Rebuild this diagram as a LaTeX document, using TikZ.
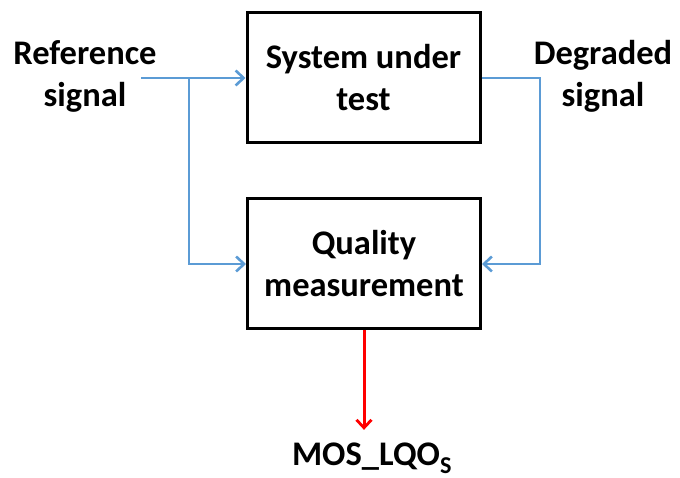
\documentclass[tikz,border=0pt]{standalone}
\usepackage{fontspec}
\setmainfont{Carlito}
\usetikzlibrary{arrows.meta}
\definecolor{sigblue}{RGB}{91,155,213}

\begin{document}
\begin{tikzpicture}[x=1pt,y=1pt,
    block/.style={draw=black,line width=3pt,minimum width=233pt,minimum height=130pt,align=center},
    lbl/.style={align=center},
    sig/.style={draw=sigblue,line width=2.8pt,-{Straight Barb[length=8pt,width=15pt,line width=2.6pt]}},
    res/.style={draw=red,line width=3pt,-{Straight Barb[length=8pt,width=15pt,line width=2.8pt]}},
    every node/.style={font=\fontsize{34.5}{42}\selectfont\bfseries}]
\useasboundingbox (0,0) rectangle (680,478);
\node[block] (sut) at (363.5,400) {System under\\test};
\node[block] (qm) at (364,214) {Quality\\measurement};
\node[lbl] (ref) at (85,402) {Reference\\signal};
\node[lbl] (deg) at (603,402) {Degraded\\signal};
\node[anchor=base] (mos) at (372,12) {MOS\_LQO\textsubscript{S}};
\coordinate (in) at (141,400);
\coordinate (br) at (189,400);
\coordinate (out) at (540,400);
\draw[sig] (in) -- (sut.west);
\draw[sig] (br) |- (qm.west);
\draw[sig] (sut.east) -- (out) |- (qm.east);
\draw[res,shorten >=10pt] (qm.south) -- (qm.south |- mos.north);
\end{tikzpicture}
\end{document}
